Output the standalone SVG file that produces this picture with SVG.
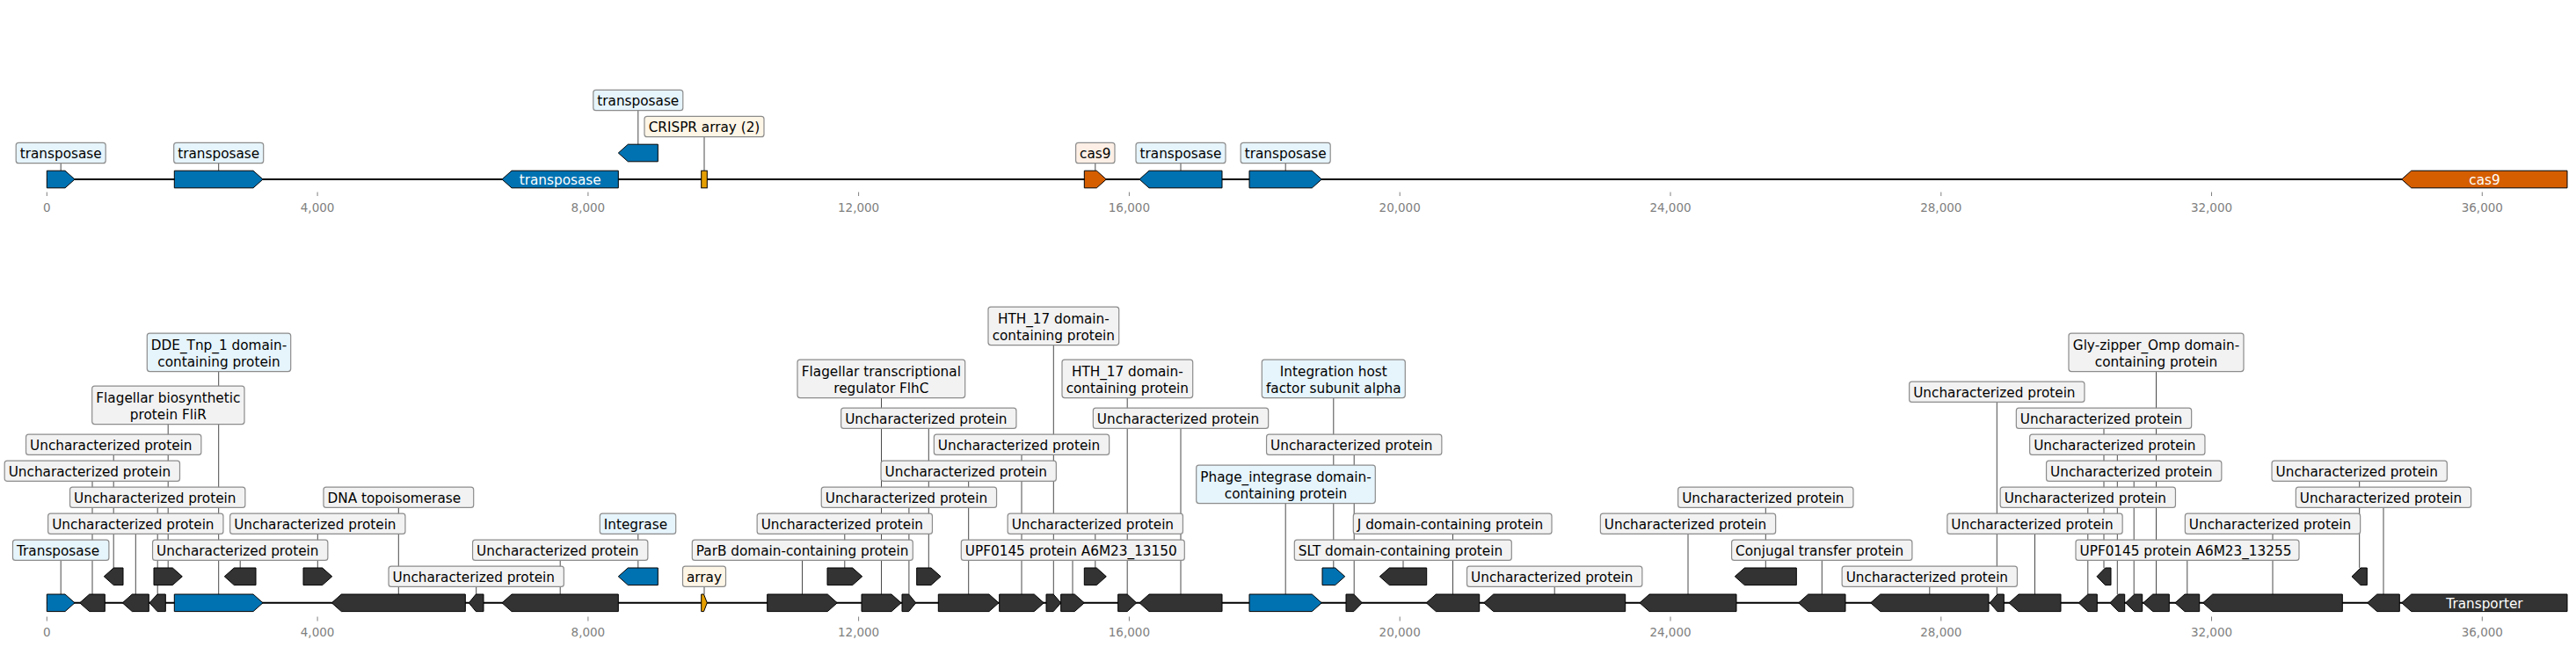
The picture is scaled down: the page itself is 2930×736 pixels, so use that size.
<svg xmlns="http://www.w3.org/2000/svg" width="2930" height="736" viewBox="0 0 2930 736">
<style>
.ln{stroke:#000;stroke-width:2}
.tk{stroke:#808080;stroke-width:1}
.tl{font-family:"DejaVu Sans",sans-serif;font-size:13.5px;fill:#808080;text-anchor:middle}
.g{stroke:#000;stroke-width:1;stroke-linejoin:miter}
.bl{fill:#0072b2}.dk{fill:#333}.or{fill:#d55e00}.yl{fill:#e69f00}
.bx{stroke:#8c8c8c;stroke-width:1.2}
.fb{fill:#e6f4fb}.fg{fill:#f2f2f2}.fc{fill:#fdf5e6}.fp{fill:#fdefe5}
.t{font-family:"DejaVu Sans",sans-serif;font-size:15.28px;fill:#000}
.m{text-anchor:middle}
.w{fill:#fff}
.cn line{stroke:#4a4a4a;stroke-width:1}
</style>
<rect width="2930" height="736" fill="#fff"/>
<g id="axes">
<line class="ln" x1="53.3" y1="204" x2="2920" y2="204"/>
<line class="ln" x1="53.3" y1="685.8" x2="2920" y2="685.8"/>
<g class="tk">
<line x1="53.3" y1="218.5" x2="53.3" y2="223"/><line x1="361.1" y1="218.5" x2="361.1" y2="223"/><line x1="668.9" y1="218.5" x2="668.9" y2="223"/><line x1="976.6" y1="218.5" x2="976.6" y2="223"/><line x1="1284.4" y1="218.5" x2="1284.4" y2="223"/><line x1="1592.2" y1="218.5" x2="1592.2" y2="223"/><line x1="1900" y1="218.5" x2="1900" y2="223"/><line x1="2207.8" y1="218.5" x2="2207.8" y2="223"/><line x1="2515.5" y1="218.5" x2="2515.5" y2="223"/><line x1="2823.3" y1="218.5" x2="2823.3" y2="223"/>
<line x1="53.3" y1="701.5" x2="53.3" y2="706.5"/><line x1="361.1" y1="701.5" x2="361.1" y2="706.5"/><line x1="668.9" y1="701.5" x2="668.9" y2="706.5"/><line x1="976.6" y1="701.5" x2="976.6" y2="706.5"/><line x1="1284.4" y1="701.5" x2="1284.4" y2="706.5"/><line x1="1592.2" y1="701.5" x2="1592.2" y2="706.5"/><line x1="1900" y1="701.5" x2="1900" y2="706.5"/><line x1="2207.8" y1="701.5" x2="2207.8" y2="706.5"/><line x1="2515.5" y1="701.5" x2="2515.5" y2="706.5"/><line x1="2823.3" y1="701.5" x2="2823.3" y2="706.5"/>
</g>
<g class="tl">
<text x="53.3" y="241.4">0</text><text x="361.1" y="241.4">4,000</text><text x="668.9" y="241.4">8,000</text><text x="976.6" y="241.4">12,000</text><text x="1284.4" y="241.4">16,000</text><text x="1592.2" y="241.4">20,000</text><text x="1900" y="241.4">24,000</text><text x="2207.8" y="241.4">28,000</text><text x="2515.5" y="241.4">32,000</text><text x="2823.3" y="241.4">36,000</text>
<text x="53.3" y="723.9">0</text><text x="361.1" y="723.9">4,000</text><text x="668.9" y="723.9">8,000</text><text x="976.6" y="723.9">12,000</text><text x="1284.4" y="723.9">16,000</text><text x="1592.2" y="723.9">20,000</text><text x="1900" y="723.9">24,000</text><text x="2207.8" y="723.9">28,000</text><text x="2515.5" y="723.9">32,000</text><text x="2823.3" y="723.9">36,000</text>
</g>
</g>
<g id="connectors" class="cn">
<line x1="69.2" y1="194.2" x2="69.2" y2="174"/>
<line x1="248.7" y1="194.2" x2="248.7" y2="174"/>
<line x1="725.8" y1="164.2" x2="725.8" y2="114"/>
<line x1="801" y1="194.2" x2="801" y2="144"/>
<line x1="1245.8" y1="194.2" x2="1245.8" y2="174"/>
<line x1="1343" y1="194.2" x2="1343" y2="174"/>
<line x1="1462.2" y1="194.2" x2="1462.2" y2="174"/>
<line x1="69.2" y1="676" x2="69.2" y2="625.8"/>
<line x1="105" y1="676" x2="105" y2="535.8"/>
<line x1="154.3" y1="676" x2="154.3" y2="595.8"/>
<line x1="179.2" y1="676" x2="179.2" y2="565.8"/>
<line x1="248.7" y1="676" x2="248.7" y2="400.8"/>
<line x1="453.3" y1="676" x2="453.3" y2="565.8"/>
<line x1="541.7" y1="676" x2="541.7" y2="655.8"/>
<line x1="637.2" y1="676" x2="637.2" y2="625.8"/>
<line x1="801" y1="676" x2="801" y2="655.8"/>
<line x1="912.5" y1="676" x2="912.5" y2="625.8"/>
<line x1="1002.5" y1="676" x2="1002.5" y2="430.8"/>
<line x1="1033.9" y1="676" x2="1033.9" y2="565.8"/>
<line x1="1101.7" y1="676" x2="1101.7" y2="535.8"/>
<line x1="1162" y1="676" x2="1162" y2="505.8"/>
<line x1="1198.3" y1="676" x2="1198.3" y2="370.8"/>
<line x1="1220" y1="676" x2="1220" y2="625.8"/>
<line x1="1282.2" y1="676" x2="1282.2" y2="430.8"/>
<line x1="1343" y1="676" x2="1343" y2="475.8"/>
<line x1="1462.2" y1="676" x2="1462.2" y2="550.8"/>
<line x1="1540.2" y1="676" x2="1540.2" y2="505.8"/>
<line x1="1652.5" y1="676" x2="1652.5" y2="595.8"/>
<line x1="1768.2" y1="676" x2="1768.2" y2="655.8"/>
<line x1="1920" y1="676" x2="1920" y2="595.8"/>
<line x1="2072.3" y1="676" x2="2072.3" y2="625.8"/>
<line x1="2194.8" y1="676" x2="2194.8" y2="655.8"/>
<line x1="2271.3" y1="676" x2="2271.3" y2="445.8"/>
<line x1="2314.5" y1="676" x2="2314.5" y2="595.8"/>
<line x1="2374.8" y1="676" x2="2374.8" y2="565.8"/>
<line x1="2408.3" y1="676" x2="2408.3" y2="505.8"/>
<line x1="2427.2" y1="676" x2="2427.2" y2="535.8"/>
<line x1="2452.5" y1="676" x2="2452.5" y2="400.8"/>
<line x1="2487.8" y1="676" x2="2487.8" y2="625.8"/>
<line x1="2585" y1="676" x2="2585" y2="595.8"/>
<line x1="2711" y1="676" x2="2711" y2="565.8"/>
<line x1="129.2" y1="646" x2="129.2" y2="505.8"/>
<line x1="191.2" y1="646" x2="191.2" y2="460.8"/>
<line x1="273.2" y1="646" x2="273.2" y2="625.8"/>
<line x1="361.3" y1="646" x2="361.3" y2="595.8"/>
<line x1="725.8" y1="646" x2="725.8" y2="595.8"/>
<line x1="960.8" y1="646" x2="960.8" y2="595.8"/>
<line x1="1056.3" y1="646" x2="1056.3" y2="475.8"/>
<line x1="1245.8" y1="646" x2="1245.8" y2="595.8"/>
<line x1="1516.8" y1="646" x2="1516.8" y2="430.8"/>
<line x1="1596" y1="646" x2="1596" y2="625.8"/>
<line x1="2008.3" y1="646" x2="2008.3" y2="565.8"/>
<line x1="2393" y1="646" x2="2393" y2="475.8"/>
<line x1="2683.7" y1="646" x2="2683.7" y2="535.8"/>
</g>
<g id="top-track">
<g id="top-transposase-1"><polygon class="g bl" points="53.3,194.2 74,194.2 85,204 74,213.8 53.3,213.8"/><rect class="bx fb" x="18.2" y="162.35" width="102" height="23.3" rx="3"/><text class="t m" x="69.2" y="180">transposase</text></g>
<g id="top-transposase-2"><polygon class="g bl" points="198.3,194.2 288,194.2 299,204 288,213.8 198.3,213.8"/><rect class="bx fb" x="197.7" y="162.35" width="102" height="23.3" rx="3"/><text class="t m" x="248.7" y="180">transposase</text></g>
<g id="top-transposase-3"><polygon class="g bl" points="703.3,194.2 582,194.2 571,204 582,213.8 703.3,213.8"/><text class="t m w" x="637.2" y="210">transposase</text></g>
<g id="top-transposase-4"><polygon class="g bl" points="748.3,164.2 714.3,164.2 703.3,174 714.3,183.8 748.3,183.8"/><rect class="bx fb" x="674.8" y="102.35" width="102" height="23.3" rx="3"/><text class="t m" x="725.8" y="120">transposase</text></g>
<g id="top-crispr"><rect class="g yl" x="797.7" y="194.2" width="6.6" height="19.6"/><rect class="bx fc" x="733" y="132.35" width="136" height="23.3" rx="3"/><text class="t m" x="801" y="150">CRISPR array (2)</text></g>
<g id="top-cas9-1"><polygon class="g or" points="1233.3,194.2 1247.3,194.2 1258.3,204 1247.3,213.8 1233.3,213.8"/><rect class="bx fp" x="1223.6" y="162.35" width="44.4" height="23.3" rx="3"/><text class="t m" x="1245.8" y="180">cas9</text></g>
<g id="top-transposase-5"><polygon class="g bl" points="1390,194.2 1307,194.2 1296,204 1307,213.8 1390,213.8"/><rect class="bx fb" x="1292" y="162.35" width="102" height="23.3" rx="3"/><text class="t m" x="1343" y="180">transposase</text></g>
<g id="top-transposase-6"><polygon class="g bl" points="1421,194.2 1492.3,194.2 1503.3,204 1492.3,213.8 1421,213.8"/><rect class="bx fb" x="1411.2" y="162.35" width="102" height="23.3" rx="3"/><text class="t m" x="1462.2" y="180">transposase</text></g>
<g id="top-cas9-2"><polygon class="g or" points="2920,194.2 2742.7,194.2 2731.7,204 2742.7,213.8 2920,213.8"/><text class="t m w" x="2826" y="210">cas9</text></g>
</g>
<g id="bottom-track">
<g id="b01"><polygon class="g bl" points="53.3,676 74,676 85,685.8 74,695.6 53.3,695.6"/><rect class="bx fb" x="14.5" y="614.15" width="109.4" height="23.3" rx="3"/><text class="t" x="19" y="631.8">Transposase</text></g>
<g id="b02"><polygon class="g dk" points="119.3,676 101.7,676 90.7,685.8 101.7,695.6 119.3,695.6"/><rect class="bx fg" x="5.2" y="524.15" width="199.3" height="23.3" rx="3"/><text class="t" x="9.7" y="541.8">Uncharacterized protein</text></g>
<g id="b03"><polygon class="g dk" points="169.3,676 150.3,676 139.3,685.8 150.3,695.6 169.3,695.6"/><rect class="bx fg" x="54.65" y="584.15" width="199.3" height="23.3" rx="3"/><text class="t" x="59.15" y="601.8">Uncharacterized protein</text></g>
<g id="b04"><polygon class="g dk" points="188.3,676 179,676 170,685.8 179,695.6 188.3,695.6"/><rect class="bx fg" x="79.55" y="554.15" width="199.3" height="23.3" rx="3"/><text class="t" x="84.05" y="571.8">Uncharacterized protein</text></g>
<g id="b05"><polygon class="g bl" points="198.3,676 288,676 299,685.8 288,695.6 198.3,695.6"/><rect class="bx fb" x="167.3" y="379.05" width="163.4" height="43.5" rx="3"/><text class="t m" x="249" y="398.35">DDE_Tnp_1 domain-</text><text class="t m" x="249" y="416.95">containing protein</text></g>
<g id="b06"><polygon class="g dk" points="529.3,676 388.3,676 377.3,685.8 388.3,695.6 529.3,695.6"/><rect class="bx fg" x="368" y="554.15" width="170.7" height="23.3" rx="3"/><text class="t" x="372.5" y="571.8">DNA topoisomerase</text></g>
<g id="b07"><polygon class="g dk" points="550,676 541.3,676 533.3,685.8 541.3,695.6 550,695.6"/><rect class="bx fg" x="442.05" y="644.15" width="199.3" height="23.3" rx="3"/><text class="t" x="446.55" y="661.8">Uncharacterized protein</text></g>
<g id="b08"><polygon class="g dk" points="703.3,676 582,676 571,685.8 582,695.6 703.3,695.6"/><rect class="bx fg" x="537.55" y="614.15" width="199.3" height="23.3" rx="3"/><text class="t" x="542.05" y="631.8">Uncharacterized protein</text></g>
<g id="b09"><polygon class="g yl" points="797.7,676 800.5,676 804.3,685.8 800.5,695.6 797.7,695.6"/><rect class="bx fc" x="776.5" y="644.15" width="49" height="23.3" rx="3"/><text class="t m" x="801" y="661.8">array</text></g>
<g id="b10"><polygon class="g dk" points="872.7,676 941.3,676 952.3,685.8 941.3,695.6 872.7,695.6"/><rect class="bx fg" x="787.3" y="614.15" width="251" height="23.3" rx="3"/><text class="t" x="791.8" y="631.8">ParB domain-containing protein</text></g>
<g id="b11"><polygon class="g dk" points="980,676 1014,676 1025,685.8 1014,695.6 980,695.6"/><rect class="bx fg" x="907" y="409.05" width="190.7" height="43.5" rx="3"/><text class="t m" x="1002.35" y="428.35">Flagellar transcriptional</text><text class="t m" x="1002.35" y="446.95">regulator FlhC</text></g>
<g id="b12"><polygon class="g dk" points="1026,676 1033.7,676 1041.7,685.8 1033.7,695.6 1026,695.6"/><rect class="bx fg" x="934.25" y="554.15" width="199.3" height="23.3" rx="3"/><text class="t" x="938.75" y="571.8">Uncharacterized protein</text></g>
<g id="b13"><polygon class="g dk" points="1067.3,676 1125,676 1136,685.8 1125,695.6 1067.3,695.6"/><rect class="bx fg" x="1002.05" y="524.15" width="199.3" height="23.3" rx="3"/><text class="t" x="1006.55" y="541.8">Uncharacterized protein</text></g>
<g id="b14"><polygon class="g dk" points="1136.7,676 1176.3,676 1187.3,685.8 1176.3,695.6 1136.7,695.6"/><rect class="bx fg" x="1062.35" y="494.15" width="199.3" height="23.3" rx="3"/><text class="t" x="1066.85" y="511.8">Uncharacterized protein</text></g>
<g id="b15"><polygon class="g dk" points="1190,676 1198.2,676 1206.7,685.8 1198.2,695.6 1190,695.6"/><rect class="bx fg" x="1124" y="349.05" width="148.7" height="43.5" rx="3"/><text class="t m" x="1198.35" y="368.35">HTH_17 domain-</text><text class="t m" x="1198.35" y="386.95">containing protein</text></g>
<g id="b16"><polygon class="g dk" points="1206.7,676 1222.3,676 1233.3,685.8 1222.3,695.6 1206.7,695.6"/><rect class="bx fg" x="1093.3" y="614.15" width="254" height="23.3" rx="3"/><text class="t" x="1097.8" y="631.8">UPF0145 protein A6M23_13150</text></g>
<g id="b17"><polygon class="g dk" points="1271.7,676 1282.2,676 1292.7,685.8 1282.2,695.6 1271.7,695.6"/><rect class="bx fg" x="1208" y="409.05" width="148.7" height="43.5" rx="3"/><text class="t m" x="1282.35" y="428.35">HTH_17 domain-</text><text class="t m" x="1282.35" y="446.95">containing protein</text></g>
<g id="b18"><polygon class="g dk" points="1390,676 1307,676 1296,685.8 1307,695.6 1390,695.6"/><rect class="bx fg" x="1243.35" y="464.15" width="199.3" height="23.3" rx="3"/><text class="t" x="1247.85" y="481.8">Uncharacterized protein</text></g>
<g id="b19"><polygon class="g bl" points="1421,676 1492.3,676 1503.3,685.8 1492.3,695.6 1421,695.6"/><rect class="bx fb" x="1360.7" y="529.05" width="203.6" height="43.5" rx="3"/><text class="t m" x="1462.5" y="548.35">Phage_integrase domain-</text><text class="t m" x="1462.5" y="566.95">containing protein</text></g>
<g id="b20"><polygon class="g dk" points="1531,676 1539.8,676 1549.3,685.8 1539.8,695.6 1531,695.6"/><rect class="bx fg" x="1440.55" y="494.15" width="199.3" height="23.3" rx="3"/><text class="t" x="1445.05" y="511.8">Uncharacterized protein</text></g>
<g id="b21"><polygon class="g dk" points="1682.7,676 1633.3,676 1622.3,685.8 1633.3,695.6 1682.7,695.6"/><rect class="bx fg" x="1539.3" y="584.15" width="225.7" height="23.3" rx="3"/><text class="t" x="1543.8" y="601.8">J domain-containing protein</text></g>
<g id="b22"><polygon class="g dk" points="1848.7,676 1698.7,676 1687.7,685.8 1698.7,695.6 1848.7,695.6"/><rect class="bx fg" x="1668.55" y="644.15" width="199.3" height="23.3" rx="3"/><text class="t" x="1673.05" y="661.8">Uncharacterized protein</text></g>
<g id="b23"><polygon class="g dk" points="1975,676 1876,676 1865,685.8 1876,695.6 1975,695.6"/><rect class="bx fg" x="1820.35" y="584.15" width="199.3" height="23.3" rx="3"/><text class="t" x="1824.85" y="601.8">Uncharacterized protein</text></g>
<g id="b24"><polygon class="g dk" points="2099,676 2056.7,676 2045.7,685.8 2056.7,695.6 2099,695.6"/><rect class="bx fg" x="1969.6" y="614.15" width="205.3" height="23.3" rx="3"/><text class="t" x="1974.1" y="631.8">Conjugal transfer protein</text></g>
<g id="b25"><polygon class="g dk" points="2262,676 2138.7,676 2127.7,685.8 2138.7,695.6 2262,695.6"/><rect class="bx fg" x="2095.15" y="644.15" width="199.3" height="23.3" rx="3"/><text class="t" x="2099.65" y="661.8">Uncharacterized protein</text></g>
<g id="b26"><polygon class="g dk" points="2279.3,676 2271.8,676 2263.3,685.8 2271.8,695.6 2279.3,695.6"/><rect class="bx fg" x="2171.65" y="434.15" width="199.3" height="23.3" rx="3"/><text class="t" x="2176.15" y="451.8">Uncharacterized protein</text></g>
<g id="b27"><polygon class="g dk" points="2344,676 2296,676 2285,685.8 2296,695.6 2344,695.6"/><rect class="bx fg" x="2214.85" y="584.15" width="199.3" height="23.3" rx="3"/><text class="t" x="2219.35" y="601.8">Uncharacterized protein</text></g>
<g id="b28"><polygon class="g dk" points="2385.3,676 2374.8,676 2364.3,685.8 2374.8,695.6 2385.3,695.6"/><rect class="bx fg" x="2275.15" y="554.15" width="199.3" height="23.3" rx="3"/><text class="t" x="2279.65" y="571.8">Uncharacterized protein</text></g>
<g id="b29"><polygon class="g dk" points="2416.7,676 2409.5,676 2400,685.8 2409.5,695.6 2416.7,695.6"/><rect class="bx fg" x="2308.65" y="494.15" width="199.3" height="23.3" rx="3"/><text class="t" x="2313.15" y="511.8">Uncharacterized protein</text></g>
<g id="b30"><polygon class="g dk" points="2436.7,676 2427.7,676 2417.7,685.8 2427.7,695.6 2436.7,695.6"/><rect class="bx fg" x="2327.55" y="524.15" width="199.3" height="23.3" rx="3"/><text class="t" x="2332.05" y="541.8">Uncharacterized protein</text></g>
<g id="b31"><polygon class="g dk" points="2467.3,676 2448.7,676 2437.7,685.8 2448.7,695.6 2467.3,695.6"/><rect class="bx fg" x="2353" y="379.05" width="199" height="43.5" rx="3"/><text class="t m" x="2452.5" y="398.35">Gly-zipper_Omp domain-</text><text class="t m" x="2452.5" y="416.95">containing protein</text></g>
<g id="b32"><polygon class="g dk" points="2501.7,676 2485,676 2474,685.8 2485,695.6 2501.7,695.6"/><rect class="bx fg" x="2361" y="614.15" width="254" height="23.3" rx="3"/><text class="t" x="2365.5" y="631.8">UPF0145 protein A6M23_13255</text></g>
<g id="b33"><polygon class="g dk" points="2664.3,676 2516.7,676 2505.7,685.8 2516.7,695.6 2664.3,695.6"/><rect class="bx fg" x="2485.35" y="584.15" width="199.3" height="23.3" rx="3"/><text class="t" x="2489.85" y="601.8">Uncharacterized protein</text></g>
<g id="b34"><polygon class="g dk" points="2729.3,676 2703.7,676 2692.7,685.8 2703.7,695.6 2729.3,695.6"/><rect class="bx fg" x="2611.35" y="554.15" width="199.3" height="23.3" rx="3"/><text class="t" x="2615.85" y="571.8">Uncharacterized protein</text></g>
<g id="b35"><polygon class="g dk" points="2920,676 2742.7,676 2731.7,685.8 2742.7,695.6 2920,695.6"/><text class="t m w" x="2826" y="691.8">Transporter</text></g>
<g id="ba"><polygon class="g dk" points="140,646 129.3,646 118.3,655.8 129.3,665.6 140,665.6"/><rect class="bx fg" x="29.55" y="494.15" width="199.3" height="23.3" rx="3"/><text class="t" x="34.05" y="511.8">Uncharacterized protein</text></g>
<g id="bb"><polygon class="g dk" points="175,646 196.3,646 207.3,655.8 196.3,665.6 175,665.6"/><rect class="bx fg" x="104.7" y="439.05" width="173.3" height="43.5" rx="3"/><text class="t m" x="191.35" y="458.35">Flagellar biosynthetic</text><text class="t m" x="191.35" y="476.95">protein FliR</text></g>
<g id="bc"><polygon class="g dk" points="291,646 266.3,646 255.3,655.8 266.3,665.6 291,665.6"/><rect class="bx fg" x="173.55" y="614.15" width="199.3" height="23.3" rx="3"/><text class="t" x="178.05" y="631.8">Uncharacterized protein</text></g>
<g id="bd"><polygon class="g dk" points="345,646 366.7,646 377.7,655.8 366.7,665.6 345,665.6"/><rect class="bx fg" x="261.65" y="584.15" width="199.3" height="23.3" rx="3"/><text class="t" x="266.15" y="601.8">Uncharacterized protein</text></g>
<g id="be"><polygon class="g bl" points="748.3,646 714.3,646 703.3,655.8 714.3,665.6 748.3,665.6"/><rect class="bx fb" x="682.3" y="584.15" width="86.4" height="23.3" rx="3"/><text class="t" x="686.8" y="601.8">Integrase</text></g>
<g id="bf"><polygon class="g dk" points="941,646 969.7,646 980.7,655.8 969.7,665.6 941,665.6"/><rect class="bx fg" x="861.15" y="584.15" width="199.3" height="23.3" rx="3"/><text class="t" x="865.65" y="601.8">Uncharacterized protein</text></g>
<g id="bg"><polygon class="g dk" points="1042.7,646 1059,646 1070,655.8 1059,665.6 1042.7,665.6"/><rect class="bx fg" x="956.65" y="464.15" width="199.3" height="23.3" rx="3"/><text class="t" x="961.15" y="481.8">Uncharacterized protein</text></g>
<g id="bh"><polygon class="g dk" points="1233.3,646 1247.3,646 1258.3,655.8 1247.3,665.6 1233.3,665.6"/><rect class="bx fg" x="1146.15" y="584.15" width="199.3" height="23.3" rx="3"/><text class="t" x="1150.65" y="601.8">Uncharacterized protein</text></g>
<g id="bi"><polygon class="g bl" points="1504,646 1518.7,646 1529.7,655.8 1518.7,665.6 1504,665.6"/><rect class="bx fb" x="1435.3" y="409.05" width="163" height="43.5" rx="3"/><text class="t m" x="1516.8" y="428.35">Integration host</text><text class="t m" x="1516.8" y="446.95">factor subunit alpha</text></g>
<g id="bj"><polygon class="g dk" points="1622.7,646 1580.3,646 1569.3,655.8 1580.3,665.6 1622.7,665.6"/><rect class="bx fg" x="1472.3" y="614.15" width="247" height="23.3" rx="3"/><text class="t" x="1476.8" y="631.8">SLT domain-containing protein</text></g>
<g id="bk"><polygon class="g dk" points="2043.3,646 1984.3,646 1973.3,655.8 1984.3,665.6 2043.3,665.6"/><rect class="bx fg" x="1908.65" y="554.15" width="199.3" height="23.3" rx="3"/><text class="t" x="1913.15" y="571.8">Uncharacterized protein</text></g>
<g id="bl"><polygon class="g dk" points="2401,646 2394.5,646 2385,655.8 2394.5,665.6 2401,665.6"/><rect class="bx fg" x="2293.35" y="464.15" width="199.3" height="23.3" rx="3"/><text class="t" x="2297.85" y="481.8">Uncharacterized protein</text></g>
<g id="bm"><polygon class="g dk" points="2692.3,646 2685,646 2675,655.8 2685,665.6 2692.3,665.6"/><rect class="bx fg" x="2584.05" y="524.15" width="199.3" height="23.3" rx="3"/><text class="t" x="2588.55" y="541.8">Uncharacterized protein</text></g>
</g>
</svg>
